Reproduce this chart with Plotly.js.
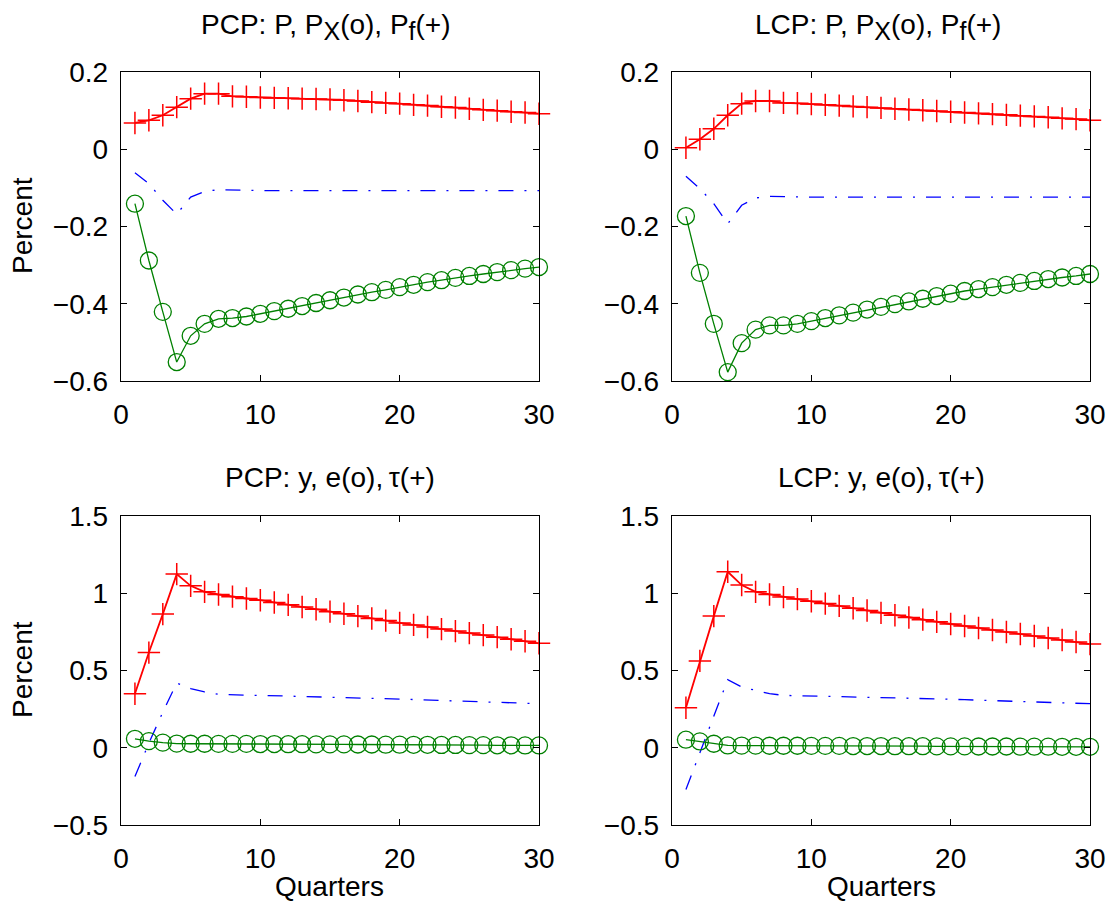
<!DOCTYPE html>
<html>
<head>
<meta charset="utf-8">
<script src="https://cdn.plot.ly/plotly-3.0.1.min.js"></script>
<style>
html,body{margin:0;padding:0;background:#fff;}
#chart{width:1115px;height:907px;}
</style>
</head>
<body>
<div id="chart"></div>
<script>
// Quarters 1..30
const quarters = [1,2,3,4,5,6,7,8,9,10,11,12,13,14,15,16,17,18,19,20,21,22,23,24,25,26,27,28,29,30];

// PCP: P (dash-dot), P_X (o), P_f (+)
const pcpP  = [-0.061,-0.089,-0.132,-0.168,-0.124,-0.109,-0.105,-0.106,-0.107,-0.107,-0.107,-0.107,-0.107,-0.107,-0.107,-0.107,-0.107,-0.107,-0.107,-0.107,-0.107,-0.107,-0.107,-0.107,-0.107,-0.107,-0.107,-0.107,-0.107,-0.107];
const pcpPx = [-0.141,-0.288,-0.421,-0.551,-0.483,-0.452,-0.439,-0.437,-0.433,-0.426,-0.419,-0.413,-0.406,-0.398,-0.391,-0.384,-0.376,-0.370,-0.364,-0.357,-0.351,-0.344,-0.339,-0.333,-0.328,-0.323,-0.318,-0.313,-0.309,-0.305];
const pcpPf = [0.068,0.075,0.088,0.109,0.131,0.144,0.144,0.137,0.136,0.134,0.133,0.132,0.131,0.130,0.129,0.127,0.125,0.122,0.120,0.118,0.115,0.113,0.110,0.108,0.105,0.102,0.100,0.097,0.095,0.092];

// LCP: P (dash-dot), P_X (o), P_f (+)
const lcpP  = [-0.070,-0.102,-0.141,-0.193,-0.145,-0.126,-0.122,-0.123,-0.124,-0.124,-0.124,-0.124,-0.124,-0.124,-0.124,-0.124,-0.124,-0.124,-0.124,-0.124,-0.124,-0.124,-0.124,-0.124,-0.124,-0.124,-0.124,-0.124,-0.124,-0.124];
const lcpPx = [-0.173,-0.320,-0.452,-0.577,-0.502,-0.467,-0.456,-0.456,-0.452,-0.445,-0.437,-0.430,-0.423,-0.415,-0.408,-0.401,-0.394,-0.387,-0.380,-0.374,-0.367,-0.362,-0.357,-0.351,-0.346,-0.341,-0.336,-0.332,-0.328,-0.323];
const lcpPf = [0.004,0.026,0.053,0.088,0.118,0.125,0.125,0.120,0.119,0.117,0.115,0.113,0.111,0.109,0.107,0.105,0.103,0.101,0.099,0.097,0.095,0.093,0.091,0.089,0.087,0.085,0.083,0.080,0.078,0.075];

// PCP: y (dash-dot), e (o), tau (+)
const pcpY   = [-0.186,0.030,0.230,0.419,0.383,0.361,0.346,0.342,0.340,0.339,0.337,0.335,0.333,0.331,0.329,0.327,0.324,0.321,0.318,0.315,0.312,0.309,0.306,0.303,0.300,0.297,0.294,0.291,0.288,0.285];
const pcpE   = [0.058,0.043,0.033,0.027,0.026,0.026,0.025,0.025,0.025,0.024,0.024,0.023,0.023,0.022,0.022,0.022,0.021,0.021,0.020,0.020,0.019,0.019,0.018,0.018,0.017,0.017,0.016,0.016,0.015,0.015];
const pcpTau = [0.350,0.616,0.865,1.124,1.048,1.009,0.992,0.978,0.966,0.955,0.940,0.925,0.911,0.896,0.881,0.867,0.852,0.837,0.823,0.808,0.795,0.782,0.768,0.755,0.742,0.729,0.716,0.702,0.689,0.676];

// LCP: y (dash-dot), e (o), tau (+)
const lcpY   = [-0.270,-0.030,0.200,0.441,0.393,0.372,0.350,0.339,0.337,0.336,0.335,0.334,0.332,0.330,0.328,0.326,0.323,0.320,0.317,0.314,0.311,0.308,0.305,0.302,0.299,0.296,0.293,0.290,0.288,0.285];
const lcpE   = [0.052,0.041,0.026,0.015,0.014,0.014,0.013,0.013,0.013,0.012,0.012,0.012,0.011,0.011,0.011,0.010,0.010,0.010,0.009,0.009,0.009,0.008,0.008,0.008,0.007,0.007,0.007,0.006,0.006,0.006];
const lcpTau = [0.259,0.562,0.852,1.139,1.053,1.009,0.992,0.975,0.962,0.948,0.933,0.918,0.903,0.888,0.873,0.858,0.843,0.829,0.815,0.801,0.788,0.775,0.762,0.749,0.736,0.723,0.710,0.697,0.684,0.671];

const panelTitles = [
  "PCP: P, P<sub><span style=\"font-size:25px\">X</span></sub>(o), P<sub><span style=\"font-size:25px\">f</span></sub>(+)",
  "LCP: P, P<sub><span style=\"font-size:25px\">X</span></sub>(o), P<sub><span style=\"font-size:25px\">f</span></sub>(+)",
  "PCP: y, e(o),\u2009\u03c4(+)",
  "LCP: y, e(o),\u2009\u03c4(+)"
];
const xTicks = [0,10,20,30];
const yTicksTop = [-0.6,-0.4,-0.2,0,0.2];
const yTicksBot = [-0.5,0,0.5,1,1.5];

const FONT = "Liberation Sans, Arial, Helvetica, sans-serif";
const FS = 28;
const BLUE = "#0000ff", GREEN = "#008000", RED = "#ff0000";

function panelTraces(xa, ya, dash, circ, plus){
  return [
    {x: quarters, y: dash, xaxis: xa, yaxis: ya, type:'scatter', mode:'lines',
     line:{color:BLUE, width:1.3, dash:'15px,11px,2px,11px'}, cliponaxis:false},
    {x: quarters, y: circ, xaxis: xa, yaxis: ya, type:'scatter', mode:'lines+markers',
     line:{color:GREEN, width:1.3}, marker:{symbol:'circle-open', size:17, color:GREEN, line:{width:1.3, color:GREEN}}, cliponaxis:false},
    {x: quarters, y: plus, xaxis: xa, yaxis: ya, type:'scatter', mode:'lines+markers',
     line:{color:RED, width:1.8}, marker:{symbol:'cross-thin-open', size:16, color:RED, line:{width:1.5, color:RED}}, cliponaxis:false}
  ];
}

const data = [].concat(
  panelTraces('x','y', pcpP, pcpPx, pcpPf),
  panelTraces('x2','y2', lcpP, lcpPx, lcpPf),
  panelTraces('x3','y3', pcpY, pcpE, pcpTau),
  panelTraces('x4','y4', lcpY, lcpE, lcpTau)
);

const W = 1115, H = 907;
const colL = [121/W, 539/W], colR = [672/W, 1090/W];
const rowT = [1-381/H, 1-72/H], rowB = [1-825/H, 1-516/H];

function xax(dom, anchor){
  return {domain: dom, anchor: anchor, range:[0,30], tickvals:xTicks, ticks:'inside', ticklen:6,
    tickcolor:'#000', tickwidth:1, mirror:'allticks', showline:true, linecolor:'#000', linewidth:1.3,
    showgrid:false, zeroline:false, tickfont:{family:FONT, size:FS, color:'#000'}, ticklabelstandoff:8};
}
function yax(dom, anchor, rng, tv){
  return {domain: dom, anchor: anchor, range:rng, tickvals:tv, ticks:'inside', ticklen:6,
    tickcolor:'#000', tickwidth:1, mirror:'allticks', showline:true, linecolor:'#000', linewidth:1.3,
    showgrid:false, zeroline:false, tickfont:{family:FONT, size:FS, color:'#000'}, ticklabelstandoff:6};
}

const annFont = {family:FONT, size:FS, color:'#000'};
const annotations = [
  {text: panelTitles[0], x:326/W, y:1-47/H, xref:'paper', yref:'paper', xanchor:'center', yanchor:'bottom', showarrow:false, font:annFont},
  {text: panelTitles[1], x:878/W, y:1-47/H, xref:'paper', yref:'paper', xanchor:'center', yanchor:'bottom', showarrow:false, font:annFont},
  {text: panelTitles[2], x:(colL[0]+colL[1])/2, y:1-495/H, xref:'paper', yref:'paper', xanchor:'center', yanchor:'bottom', showarrow:false, font:annFont},
  {text: panelTitles[3], x:(colR[0]+colR[1])/2, y:1-495/H, xref:'paper', yref:'paper', xanchor:'center', yanchor:'bottom', showarrow:false, font:annFont},
  {text:'Percent', x:22/W, y:1-226/H, xref:'paper', yref:'paper', xanchor:'center', yanchor:'middle', textangle:-90, showarrow:false, font:annFont},
  {text:'Percent', x:22/W, y:1-670/H, xref:'paper', yref:'paper', xanchor:'center', yanchor:'middle', textangle:-90, showarrow:false, font:annFont},
  {text:'Quarters', x:(colL[0]+colL[1])/2, y:1-886/H, xref:'paper', yref:'paper', xanchor:'center', yanchor:'middle', showarrow:false, font:annFont},
  {text:'Quarters', x:(colR[0]+colR[1])/2, y:1-886/H, xref:'paper', yref:'paper', xanchor:'center', yanchor:'middle', showarrow:false, font:annFont}
];

const layout = {
  width: W, height: H,
  margin:{l:0, r:0, t:0, b:0},
  paper_bgcolor:'#fff', plot_bgcolor:'#fff',
  showlegend:false,
  font:{family:FONT, size:FS, color:'#000'},
  xaxis: xax(colL,'y'),  yaxis: yax(rowT,'x',[-0.6,0.2],yTicksTop),
  xaxis2: xax(colR,'y2'), yaxis2: yax(rowT,'x2',[-0.6,0.2],yTicksTop),
  xaxis3: xax(colL,'y3'), yaxis3: yax(rowB,'x3',[-0.5,1.5],yTicksBot),
  xaxis4: xax(colR,'y4'), yaxis4: yax(rowB,'x4',[-0.5,1.5],yTicksBot),
  annotations: annotations
};

Plotly.newPlot('chart', data, layout, {staticPlot:true, displayModeBar:false});
</script>
</body>
</html>
